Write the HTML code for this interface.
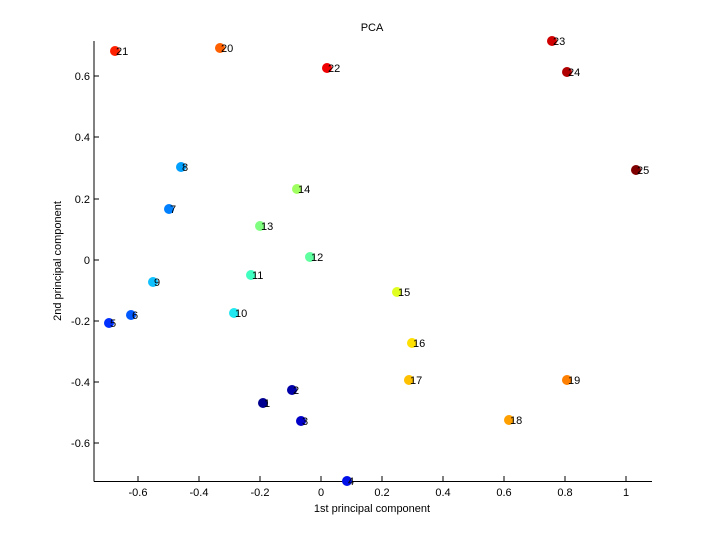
<!DOCTYPE html>
<html><head><meta charset="utf-8"><style>body{margin:0;background:#fff}svg{display:block}text{font-family:"Liberation Sans",sans-serif;fill:#000}</style></head><body>
<svg width="720" height="540" viewBox="0 0 720 540" xmlns="http://www.w3.org/2000/svg">
<rect width="720" height="540" fill="#fff"/>
<text x="372" y="31" font-size="11" text-anchor="middle">PCA</text>
<g stroke="#000" stroke-width="1" shape-rendering="crispEdges">
<line x1="94" y1="41" x2="94" y2="481.5"/>
<line x1="94" y1="481.5" x2="652" y2="481.5"/>
<line x1="138" y1="481" x2="138" y2="476"/><line x1="199" y1="481" x2="199" y2="476"/><line x1="260" y1="481" x2="260" y2="476"/><line x1="321" y1="481" x2="321" y2="476"/><line x1="382" y1="481" x2="382" y2="476"/><line x1="443" y1="481" x2="443" y2="476"/><line x1="504" y1="481" x2="504" y2="476"/><line x1="565" y1="481" x2="565" y2="476"/><line x1="626" y1="481" x2="626" y2="476"/>
<line x1="94" y1="76" x2="99" y2="76"/><line x1="94" y1="137" x2="99" y2="137"/><line x1="94" y1="199" x2="99" y2="199"/><line x1="94" y1="260" x2="99" y2="260"/><line x1="94" y1="321" x2="99" y2="321"/><line x1="94" y1="382" x2="99" y2="382"/><line x1="94" y1="443" x2="99" y2="443"/>
</g>
<g font-size="11" text-anchor="middle">
<text x="138" y="496">-0.6</text><text x="199" y="496">-0.4</text><text x="260" y="496">-0.2</text><text x="321" y="496">0</text><text x="382" y="496">0.2</text><text x="443" y="496">0.4</text><text x="504" y="496">0.6</text><text x="565" y="496">0.8</text><text x="626" y="496">1</text>
<text x="372" y="512">1st principal component</text>
</g>
<g font-size="11" text-anchor="end">
<text x="90" y="80">0.6</text><text x="90" y="141">0.4</text><text x="90" y="203">0.2</text><text x="90" y="264">0</text><text x="90" y="325">-0.2</text><text x="90" y="386">-0.4</text><text x="90" y="447">-0.6</text>
</g>
<text transform="translate(61,261) rotate(-90)" font-size="11" text-anchor="middle">2nd principal component</text>
<g font-size="11">
<circle cx="263" cy="403" r="5" fill="#000090"/><text x="264" y="407">1</text>
<circle cx="292" cy="390" r="5" fill="#0000a8"/><text x="293" y="394">2</text>
<circle cx="301" cy="421" r="5" fill="#0000c8"/><text x="302" y="425">3</text>
<circle cx="347" cy="481" r="5" fill="#0010e8"/><text x="348" y="485">4</text>
<circle cx="109" cy="323" r="5" fill="#0030ff"/><text x="110" y="327">5</text>
<circle cx="131" cy="315" r="5" fill="#0058ff"/><text x="132" y="319">6</text>
<circle cx="169" cy="209" r="5" fill="#0080ff"/><text x="170" y="213">7</text>
<circle cx="181" cy="167" r="5" fill="#00a0ff"/><text x="182" y="171">8</text>
<circle cx="153" cy="282" r="5" fill="#10c0ff"/><text x="154" y="286">9</text>
<circle cx="234" cy="313" r="5" fill="#20e8f0"/><text x="235" y="317">10</text>
<circle cx="251" cy="275" r="5" fill="#40ffc0"/><text x="252" y="279">11</text>
<circle cx="310" cy="257" r="5" fill="#60ffa0"/><text x="311" y="261">12</text>
<circle cx="260" cy="226" r="5" fill="#80ff80"/><text x="261" y="230">13</text>
<circle cx="297" cy="189" r="5" fill="#a0ff60"/><text x="298" y="193">14</text>
<circle cx="397" cy="292" r="5" fill="#e0ff20"/><text x="398" y="296">15</text>
<circle cx="412" cy="343" r="5" fill="#ffe000"/><text x="413" y="347">16</text>
<circle cx="409" cy="380" r="5" fill="#ffc000"/><text x="410" y="384">17</text>
<circle cx="509" cy="420" r="5" fill="#ffa000"/><text x="510" y="424">18</text>
<circle cx="567" cy="380" r="5" fill="#ff8000"/><text x="568" y="384">19</text>
<circle cx="220" cy="48" r="5" fill="#ff6000"/><text x="221" y="52">20</text>
<circle cx="115" cy="51" r="5" fill="#ff2000"/><text x="116" y="55">21</text>
<circle cx="327" cy="68" r="5" fill="#f00000"/><text x="328" y="72">22</text>
<circle cx="552" cy="41" r="5" fill="#d00000"/><text x="553" y="45">23</text>
<circle cx="567" cy="72" r="5" fill="#b00000"/><text x="568" y="76">24</text>
<circle cx="636" cy="170" r="5" fill="#800000"/><text x="637" y="174">25</text>
</g>
</svg>
</body></html>
